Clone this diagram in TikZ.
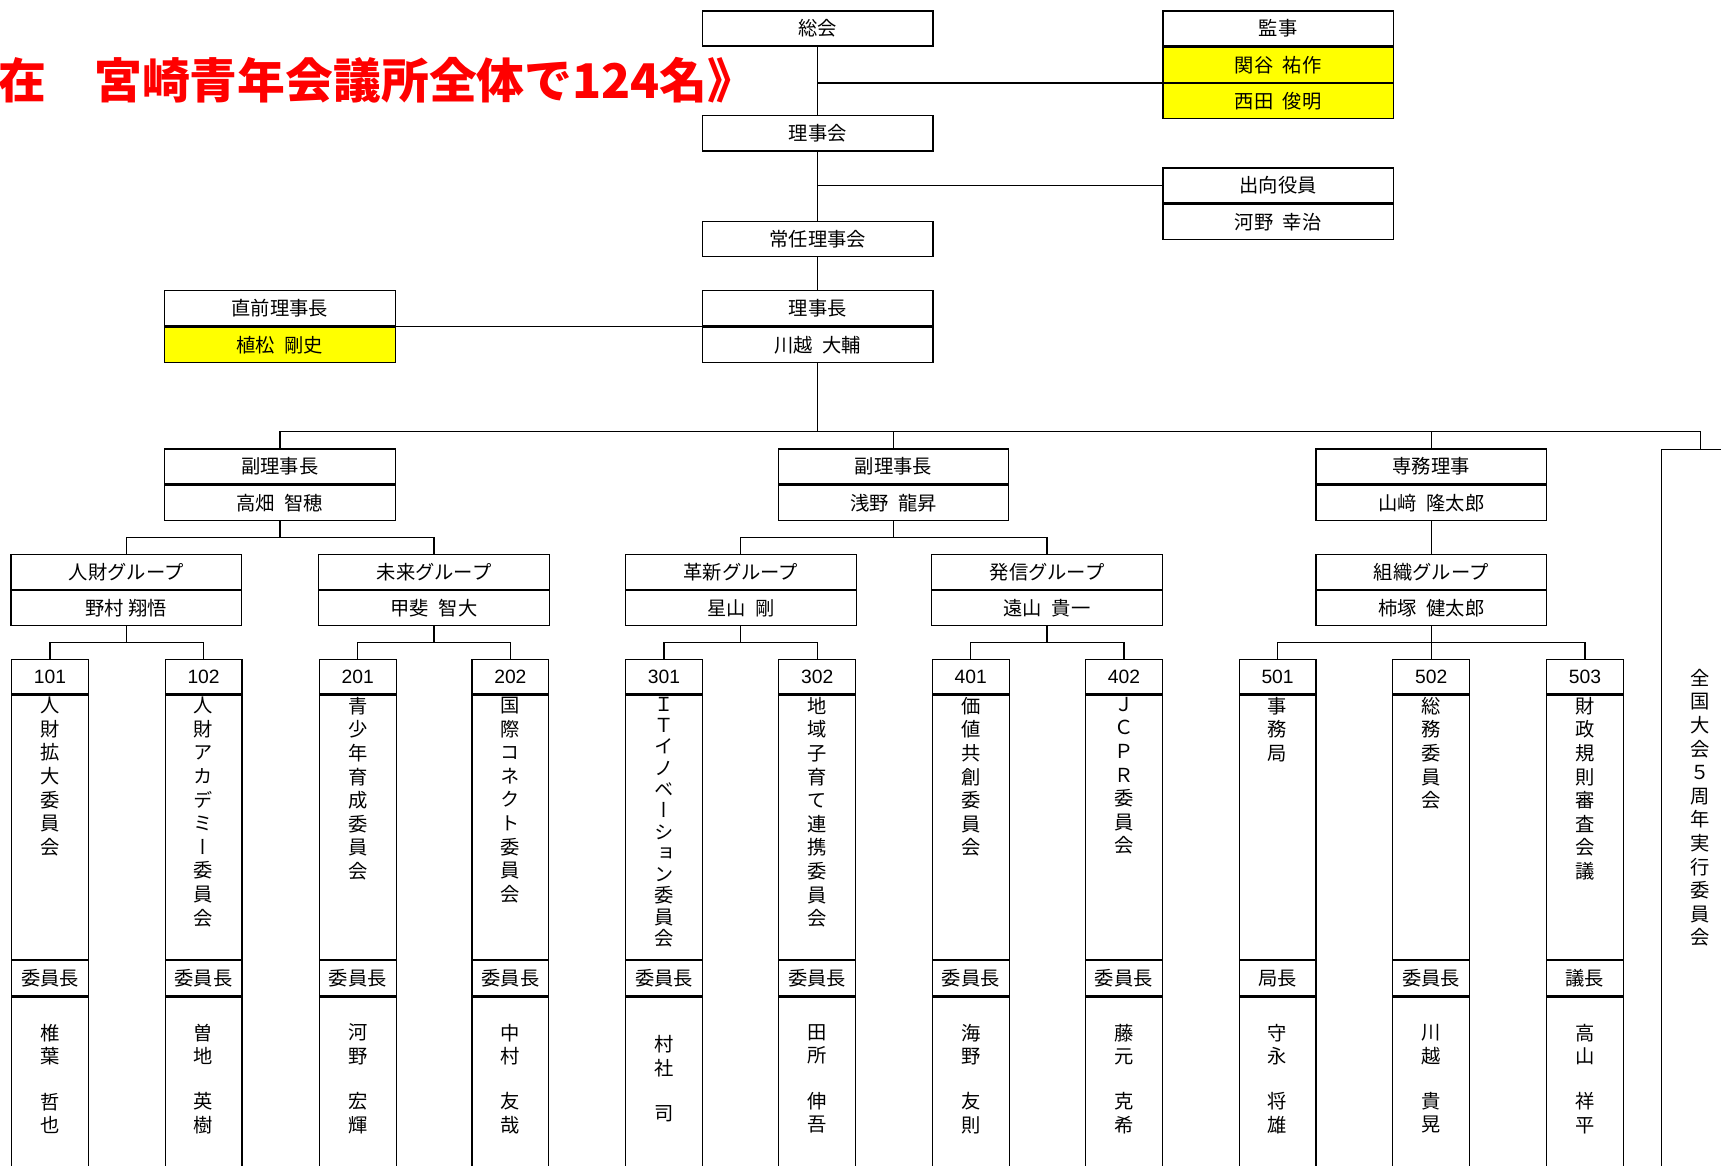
\documentclass[tikz,border=0pt]{standalone}
\usepackage{fontspec}
\setmainfont{Noto Sans CJK JP}
\newfontfamily\tatefont[RawFeature=+vert]{Noto Sans CJK JP}
\newfontfamily\numfont{Liberation Sans}
\usetikzlibrary{positioning}
\definecolor{marker}{RGB}{255,255,0}
\definecolor{titlered}{RGB}{255,0,0}

\begin{document}
\begin{tikzpicture}[x=0.25mm, y=-0.25mm, line width=0.8pt, node distance=0pt,
	font=\fontsize{12.5}{15}\selectfont,
	orgcell/.style = {draw, minimum width=52.5mm, minimum height=8mm, inner sep=0pt},
	yellowcell/.style = {orgcell, fill=marker},
	numcell/.style = {orgcell, minimum width=17.5mm, minimum height=7.75mm, font=\numfont\fontsize{12.5}{15}\selectfont},
	namecell/.style = {orgcell, minimum width=17.5mm, minimum height=60.25mm},
	chaircell/.style = {orgcell, minimum width=17.5mm},
	membercell/.style = {orgcell, minimum width=17.5mm, minimum height=50mm},
	tatetext/.style = {align=center, inner sep=0pt, font=\tatefont\fontsize{12.5}{15.3}\selectfont}]
	\useasboundingbox (0,0) rectangle (1568,1062);
	\clip (0,0) rectangle (1568,1062);
	\node[text=titlered, anchor=east, inner sep=0pt, font=\fontsize{31}{37}\selectfont\bfseries] (title) at (689,73) {在　宮崎青年会議所全体で124名》};
	% top
	\node[orgcell] (sokai) at (745,26) {総会};
	\node[orgcell] (rijikai) at (745,121.5) {理事会};
	\node[orgcell] (jonin) at (745,217.5) {常任理事会};
	\node[orgcell] (rijicho) at (745,281) {理事長};
	\node[orgcell, below=of rijicho] (rijicho1) {川越\enspace 大輔};
	\node[orgcell] (kanji) at (1164.5,26) {監事};
	\node[yellowcell, below=of kanji] (kanji1) {関谷\enspace 祐作};
	\node[yellowcell, below=of kanji1] (kanji2) {西田\enspace 俊明};
	\node[orgcell] (shukko) at (1164.5,169) {出向役員};
	\node[orgcell, below=of shukko] (shukko1) {河野\enspace 幸治};
	\node[orgcell] (zenri) at (255,281) {直前理事長};
	\node[yellowcell, below=of zenri] (zenri1) {植松\enspace 剛史};
	% vice presidents
	\node[orgcell] (fuku1) at (255,425) {副理事長};
	\node[orgcell, below=of fuku1] (fuku1n) {高畑\enspace 智穂};
	\node[orgcell] (fuku2) at (814,425) {副理事長};
	\node[orgcell, below=of fuku2] (fuku2n) {浅野\enspace 龍昇};
	\node[orgcell] (senmu) at (1304,425) {専務理事};
	\node[orgcell, below=of senmu] (senmun) {山﨑\enspace 隆太郎};
	\node[orgcell, minimum width=17.5mm, minimum height=180mm, anchor=north] (zen) at (1549,409) {};
	\node[tatetext] (zent) at (1549,736) {全\\国\\大\\会\\５\\周\\年\\実\\行\\委\\員\\会};
	% groups
	\node[orgcell] (jinzai) at (115,521) {人財グループ};
	\node[orgcell, below=of jinzai] (jinzai1) {野村 翔悟};
	\node[orgcell] (mirai) at (395.5,521) {未来グループ};
	\node[orgcell, below=of mirai] (mirai1) {甲斐\enspace 智大};
	\node[orgcell] (kakushin) at (675,521) {革新グループ};
	\node[orgcell, below=of kakushin] (kakushin1) {星山\enspace 剛};
	\node[orgcell] (hasshin) at (954,521) {発信グループ};
	\node[orgcell, below=of hasshin] (hasshin1) {遠山\enspace 貴一};
	\node[orgcell] (soshiki) at (1304,521) {組織グループ};
	\node[orgcell, below=of soshiki] (soshiki1) {柿塚\enspace 健太郎};
	% committees
	\node[numcell] (n101) at (45.5,616.5) {101};
	\node[namecell, below=of n101] (c101) {};
	\node[chaircell, below=of c101] (h101) {委員長};
	\node[membercell, below=of h101] (m101) {};
	\node[tatetext, below=0.5mm of c101.north] (t101) {人\\財\\拡\\大\\委\\員\\会};
	\node[tatetext] (p101) at (45.5,983) {椎\\葉\\[4.9mm]哲\\也};
	\node[numcell] (n102) at (185.5,616.5) {102};
	\node[namecell, below=of n102] (c102) {};
	\node[chaircell, below=of c102] (h102) {委員長};
	\node[membercell, below=of h102] (m102) {};
	\node[tatetext, below=0.5mm of c102.north] (t102) {人\\財\\ア\\カ\\デ\\ミ\\ー\\委\\員\\会};
	\node[tatetext] (p102) at (185.5,983) {曽\\地\\[4.9mm]英\\樹};
	\node[numcell] (n201) at (326,616.5) {201};
	\node[namecell, below=of n201] (c201) {};
	\node[chaircell, below=of c201] (h201) {委員長};
	\node[membercell, below=of h201] (m201) {};
	\node[tatetext, below=0.5mm of c201.north] (t201) {青\\少\\年\\育\\成\\委\\員\\会};
	\node[tatetext] (p201) at (326,983) {河\\野\\[4.9mm]宏\\輝};
	\node[numcell] (n202) at (465,616.5) {202};
	\node[namecell, below=of n202] (c202) {};
	\node[chaircell, below=of c202] (h202) {委員長};
	\node[membercell, below=of h202] (m202) {};
	\node[tatetext, below=0.5mm of c202.north] (t202) {国\\際\\コ\\ネ\\ク\\ト\\委\\員\\会};
	\node[tatetext] (p202) at (465,983) {中\\村\\[4.9mm]友\\哉};
	\node[numcell] (n301) at (605,616.5) {301};
	\node[namecell, below=of n301] (c301) {};
	\node[chaircell, below=of c301] (h301) {委員長};
	\node[membercell, below=of h301] (m301) {};
	\node[tatetext, below=0.5mm of c301.north, font=\tatefont\fontsize{12.5}{13.8}\selectfont] (t301) {Ｉ\\Ｔ\\イ\\ノ\\ベ\\ー\\シ\\ョ\\ン\\委\\員\\会};
	\node[tatetext] (p301) at (605,983) {村\\社\\[4.9mm]司};
	\node[numcell] (n302) at (744.5,616.5) {302};
	\node[namecell, below=of n302] (c302) {};
	\node[chaircell, below=of c302] (h302) {委員長};
	\node[membercell, below=of h302] (m302) {};
	\node[tatetext, below=0.5mm of c302.north] (t302) {地\\域\\子\\育\\て\\連\\携\\委\\員\\会};
	\node[tatetext] (p302) at (744.5,983) {田\\所\\[4.9mm]伸\\吾};
	\node[numcell] (n401) at (884.5,616.5) {401};
	\node[namecell, below=of n401] (c401) {};
	\node[chaircell, below=of c401] (h401) {委員長};
	\node[membercell, below=of h401] (m401) {};
	\node[tatetext, below=0.5mm of c401.north] (t401) {価\\値\\共\\創\\委\\員\\会};
	\node[tatetext] (p401) at (884.5,983) {海\\野\\[4.9mm]友\\則};
	\node[numcell] (n402) at (1024,616.5) {402};
	\node[namecell, below=of n402] (c402) {};
	\node[chaircell, below=of c402] (h402) {委員長};
	\node[membercell, below=of h402] (m402) {};
	\node[tatetext, below=0.5mm of c402.north] (t402) {Ｊ\\Ｃ\\Ｐ\\Ｒ\\委\\員\\会};
	\node[tatetext] (p402) at (1024,983) {藤\\元\\[4.9mm]克\\希};
	\node[numcell] (n501) at (1164,616.5) {501};
	\node[namecell, below=of n501] (c501) {};
	\node[chaircell, below=of c501] (h501) {局長};
	\node[membercell, below=of h501] (m501) {};
	\node[tatetext, below=0.5mm of c501.north] (t501) {事\\務\\局};
	\node[tatetext] (p501) at (1164,983) {守\\永\\[4.9mm]将\\雄};
	\node[numcell] (n502) at (1304,616.5) {502};
	\node[namecell, below=of n502] (c502) {};
	\node[chaircell, below=of c502] (h502) {委員長};
	\node[membercell, below=of h502] (m502) {};
	\node[tatetext, below=0.5mm of c502.north] (t502) {総\\務\\委\\員\\会};
	\node[tatetext] (p502) at (1304,983) {川\\越\\[4.9mm]貴\\晃};
	\node[numcell] (n503) at (1444,616.5) {503};
	\node[namecell, below=of n503] (c503) {};
	\node[chaircell, below=of c503] (h503) {議長};
	\node[membercell, below=of h503] (m503) {};
	\node[tatetext, below=0.5mm of c503.north] (t503) {財\\政\\規\\則\\審\\査\\会\\議};
	\node[tatetext] (p503) at (1444,983) {高\\山\\[4.9mm]祥\\平};
	% lines
	\coordinate (bus) at (0,393);
	\draw (sokai) -- (rijikai);
	\draw (rijikai) -- (jonin);
	\draw (jonin) -- (rijicho);
	\draw (kanji1.south west) -- (kanji1.south west -| sokai.south);
	\draw (shukko.west) -- (shukko.west -| rijikai.south);
	\draw (zenri1.north east) -- (rijicho1.north west);
	\draw (rijicho1.south) -- (rijicho1.south |- bus);
	\draw (fuku1.north) |- (bus -| zen.north) -- (zen.north);
	\draw (fuku2.north) -- (fuku2.north |- bus);
	\draw (senmu.north) -- (senmu.north |- bus);
	\draw (fuku1n.south) -- ++(0,15) -| (jinzai.north);
	\draw (fuku1n.south) -- ++(0,15) -| (mirai.north);
	\draw (fuku2n.south) -- ++(0,15) -| (kakushin.north);
	\draw (fuku2n.south) -- ++(0,15) -| (hasshin.north);
	\draw (senmun) -- (soshiki);
	\draw (jinzai1.south) -- ++(0,15) -| (n101.north);
	\draw (jinzai1.south) -- ++(0,15) -| (n102.north);
	\draw (mirai1.south) -- ++(0,15) -| (n201.north);
	\draw (mirai1.south) -- ++(0,15) -| (n202.north);
	\draw (kakushin1.south) -- ++(0,15) -| (n301.north);
	\draw (kakushin1.south) -- ++(0,15) -| (n302.north);
	\draw (hasshin1.south) -- ++(0,15) -| (n401.north);
	\draw (hasshin1.south) -- ++(0,15) -| (n402.north);
	\draw (soshiki1.south) -- ++(0,15) -| (n501.north);
	\draw (soshiki1.south) -- (n502.north);
	\draw (soshiki1.south) -- ++(0,15) -| (n503.north);
\end{tikzpicture}
\end{document}
